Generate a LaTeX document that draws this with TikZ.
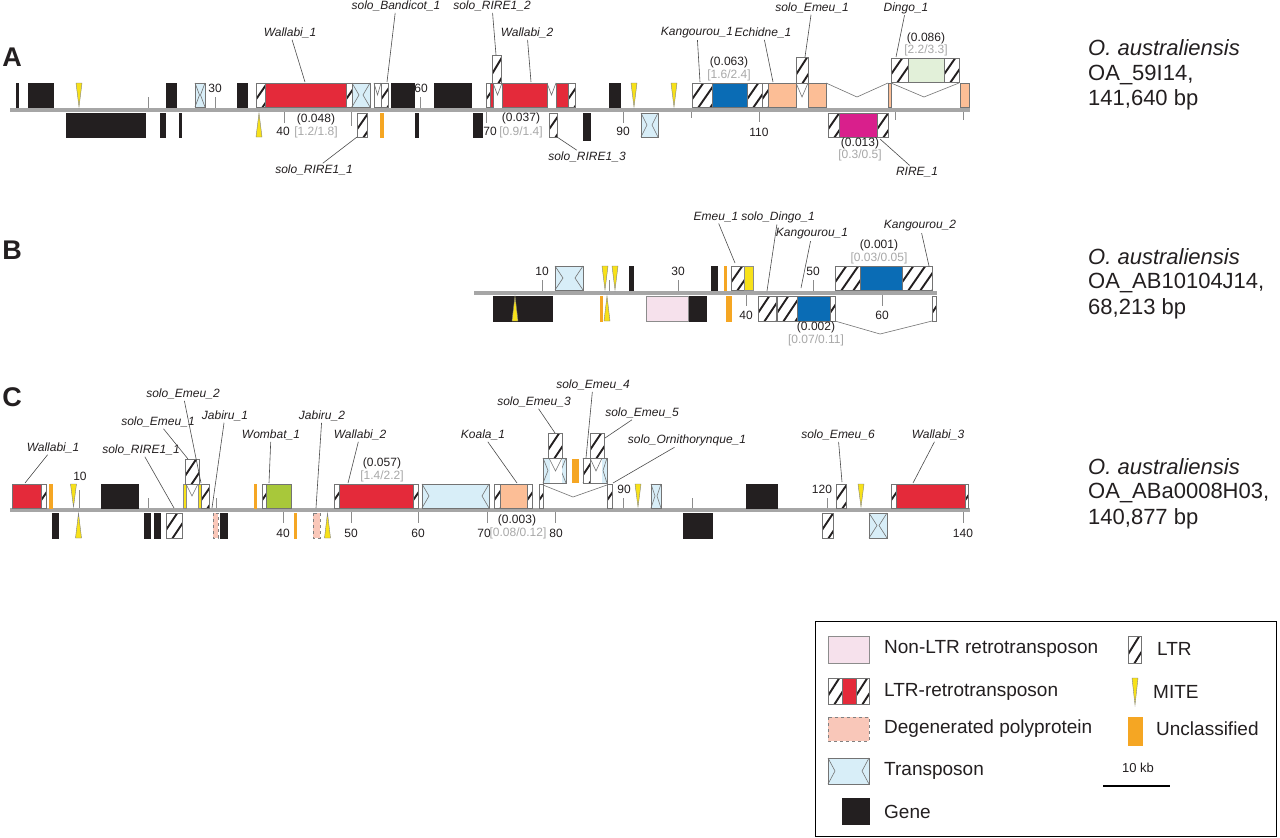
\documentclass[tikz,border=0pt]{standalone}
\usepackage{fontspec}
\setmainfont{Liberation Sans}
\definecolor{geneblk}{HTML}{231F20}
\definecolor{rtred}{HTML}{E42A3A}
\definecolor{rtblue}{HTML}{0A6CB5}
\definecolor{salm}{HTML}{FCBE96}
\definecolor{ltgreen}{HTML}{E2F0D9}
\definecolor{wgreen}{HTML}{A8C83A}
\definecolor{magent}{HTML}{D91F8C}
\definecolor{nonltr}{HTML}{F6E1EC}
\definecolor{degen}{HTML}{F9C7B9}
\definecolor{tpblue}{HTML}{D8EEF8}
\definecolor{miteyel}{HTML}{F7E11A}
\definecolor{unorg}{HTML}{F5A623}
\definecolor{bbgray}{HTML}{A6A6A6}
\definecolor{numgray}{HTML}{A8A8A8}
\definecolor{txt}{HTML}{231F20}
\tikzset{
  outl/.style={draw=black!55, line width=0.6pt},
  hatch/.style={draw=geneblk, line width=1.9pt},
  gene/.style={fill=geneblk, draw=geneblk, line width=0.4pt},
  rt/.style={fill=rtred, draw=black!55, line width=0.6pt},
  bl/.style={fill=rtblue, draw=black!55, line width=0.6pt},
  sal/.style={fill=salm, draw=black!55, line width=0.6pt},
  lg/.style={fill=ltgreen, draw=black!55, line width=0.6pt},
  wg/.style={fill=wgreen, draw=black!55, line width=0.6pt},
  mg/.style={fill=magent, draw=black!55, line width=0.6pt},
  nl/.style={fill=nonltr, draw=black!45, line width=0.6pt},
  dg/.style={fill=degen, draw=black!50, dashed, line width=0.6pt},
  yb/.style={fill=miteyel, draw=black!45, line width=0.5pt},
  org/.style={fill=unorg, draw=unorg, line width=0.3pt},
  wht/.style={fill=white, draw=black!55, line width=0.6pt},
  tpst/.style={fill=tpblue, draw=black!55, line width=0.6pt},
  mite/.style={fill=miteyel, draw=black!50, line width=0.4pt},
  tks/.style={draw=black!45, line width=0.8pt},
  vln/.style={draw=black!55, line width=0.6pt},
  bb/.style={draw=bbgray, line width=4.5pt},
  lab/.style={font=\fontsize{12}{14}\selectfont\itshape, text=txt, inner sep=1.5pt},
  num/.style={font=\fontsize{12}{14}\selectfont, text=txt, inner sep=0.5pt},
  gnum/.style={font=\fontsize{12}{14}\selectfont, text=numgray, inner sep=0.5pt},
  lead/.style={draw=black!70, line width=0.6pt},
  panel/.style={font=\fontsize{27}{30}\selectfont\bfseries, text=txt},
  spec/.style={font=\fontsize{22}{26}\selectfont, text=txt, anchor=west, inner sep=0pt},
  legt/.style={font=\fontsize{19}{22}\selectfont, text=txt, anchor=west, inner sep=0pt},
}
\newcommand{\ltrb}[4]{%
  \fill[white] (#1,#2) rectangle (#3,#4);
  \begin{scope}
    \clip (#1,#2) rectangle (#3,#4);
    \foreach \k in {0,...,6} {\draw[hatch] ({#1-18+\k*12},{#4+1}) -- ++(18,{#2-#4-2});}
  \end{scope}
  \draw[outl] (#1,#2) rectangle (#3,#4);
}
\newcommand{\tpn}[5]{%
  \draw[tpst] (#1,#2) rectangle (#3,#4);
  \draw[outl] (#1,#2) -- ({#1+#5},{(#2+#4)/2}) -- (#1,#4);
  \draw[outl] (#3,#2) -- ({#3-#5},{(#2+#4)/2}) -- (#3,#4);
}
\newcommand{\bx}[5]{\draw[#1] (#2,#3) rectangle (#4,#5);}
\newcommand{\mited}[3]{\draw[mite] ({#1-3},#2) -- ({#1+3},#2) -- (#1,#3) -- cycle;}
\newcommand{\miteu}[3]{\draw[mite] ({#1-3},#3) -- ({#1+3},#3) -- (#1,#2) -- cycle;}
\newcommand{\tk}[3]{\draw[tks] (#1,#2) -- (#1,#3);}
\newcommand{\vmk}[5]{\draw[vln] (#1,#2) -- (#3,#4) -- (#5,#2);}
\begin{document}
\begin{tikzpicture}[x=1pt,y=-1pt]
\useasboundingbox (0,0) rectangle (1280,838);
\fill[white] (0,0) rectangle (1280,838);

% ================= PANEL A =================
\node[panel] (pA) at (12,57) {A};
\draw[bb] (10,110) -- (970,110);
% top
\bx{gene}{16.5}{83}{18.5}{107}
\bx{gene}{28}{83}{53}{107}
\mited{79}{83}{107}
\tk{148}{97}{108}
\bx{gene}{166}{83}{176}{107}
\tpn{195}{83}{205}{107}{4.5}
\tk{215}{97}{108}
\node[num] (a30) at (215,88) {30};
\bx{gene}{237}{83}{247}{107}
\ltrb{256}{83}{265}{107}
\bx{rt}{265}{83}{346}{107}
\ltrb{346}{83}{352}{107}
\tpn{352}{83}{370}{107}{7}
\bx{wht}{374}{83}{381}{107}
\vmk{374}{83}{377.5}{95}{381}
\ltrb{381}{83}{388}{107}
\bx{gene}{391}{83}{414}{107}
\tk{420}{97}{108}
\node[num] (a60) at (421,88) {60};
\bx{gene}{434}{83}{471}{107}
\ltrb{486}{83}{490}{107}
\bx{rt}{490}{83}{493}{107}
\vmk{493}{83}{497.5}{95}{502}
\ltrb{492}{55}{501}{83}
\bx{rt}{502}{83}{547}{107}
\vmk{547}{83}{551.5}{95}{556}
\bx{rt}{556}{83}{568}{107}
\ltrb{568}{83}{575}{107}
\bx{gene}{609}{83}{620}{107}
\mited{634}{83}{107}
\mited{674}{83}{107}
\ltrb{692}{83}{712}{107}
\bx{bl}{712}{83}{747}{107}
\ltrb{747}{83}{762}{107}
\ltrb{762}{83}{768}{107}
\bx{sal}{768}{83}{796}{107}
\vmk{796}{83}{802}{97}{808}
\ltrb{796}{57}{808}{83}
\bx{sal}{808}{83}{826}{107}
\vmk{826}{83}{857}{97}{888}
\bx{sal}{888}{83}{891}{107}
\vmk{891}{83}{924}{97}{959}
\ltrb{891}{58}{908}{82}
\bx{lg}{908}{58}{944}{82}
\ltrb{944}{58}{959}{82}
\bx{sal}{960}{83}{969}{107}
\node[num] (a63) at (729,62) {(0.063)};
\node[gnum] (a63b) at (729,75) {[1.6/2.4]};
\node[num] (a86) at (926,38) {(0.086)};
\node[gnum] (a86b) at (926,50) {[2.2/3.3]};
% bottom
\bx{gene}{66}{113}{145}{137}
\bx{gene}{160}{113}{165}{137}
\bx{gene}{179}{113}{181}{137}
\miteu{259}{113}{137}
\tk{284}{112}{123}
\node[num] (a40) at (283,131) {40};
\node[num] (a48) at (316,119) {(0.048)};
\node[gnum] (a48b) at (316,132) {[1.2/1.8]};
\tk{351}{112}{126}
\ltrb{357}{113}{367}{137}
\bx{org}{380}{113}{383}{137}
\bx{gene}{415.5}{113}{418}{137}
\bx{gene}{473}{113}{482}{137}
\tk{486}{112}{123}
\node[num] (a70) at (490,131) {70};
\node[num] (a37) at (521,118) {(0.037)};
\node[gnum] (a37b) at (521,132) {[0.9/1.4]};
\ltrb{549}{113}{557}{137}
\bx{gene}{583}{113}{590}{140}
\tk{623}{112}{123}
\node[num] (a90) at (623,131) {90};
\tpn{641}{113}{658}{137}{6}
\tk{691}{112}{118}
\tk{759}{112}{122}
\node[num] (a110) at (759,132) {110};
\ltrb{828}{113}{839}{137}
\bx{mg}{839}{113}{877}{137}
\ltrb{877}{113}{888}{137}
\node[num] (a13) at (860,143) {(0.013)};
\node[gnum] (a13b) at (860,155) {[0.3/0.5]};
\tk{895}{112}{120}
\tk{963}{112}{120}
% labels A
\node[lab] (lAw1) at (290,33) {Wallabi\_1};
\coordinate (cAw1) at (305,82);
\draw[lead] (lAw1) -- (cAw1);
\node[lab] (lAsb) at (396,6) {solo\_Bandicot\_1};
\coordinate (cAsb) at (387,82);
\draw[lead] (lAsb) -- (cAsb);
\node[lab] (lAsr2) at (492,6) {solo\_RIRE1\_2};
\coordinate (cAsr2) at (496,55);
\draw[lead] (lAsr2) -- (cAsr2);
\node[lab] (lAw2) at (527,33) {Wallabi\_2};
\coordinate (cAw2) at (531,82);
\draw[lead] (lAw2) -- (cAw2);
\node[lab] (lAk1) at (697,33) {Kangourou\_1};
\coordinate (cAk1) at (700,82);
\draw[lead] (lAk1) -- (cAk1);
\node[lab] (lAe1) at (763,33) {Echidne\_1};
\coordinate (cAe1) at (773,82);
\draw[lead] (lAe1) -- (cAe1);
\node[lab] (lAse1) at (812,8) {solo\_Emeu\_1};
\coordinate (cAse1) at (805,57);
\draw[lead] (lAse1) -- (cAse1);
\node[lab] (lAd1) at (906,8) {Dingo\_1};
\coordinate (cAd1) at (896,57);
\draw[lead] (lAd1) -- (cAd1);
\node[lab] (lAsr1) at (314,170) {solo\_RIRE1\_1};
\coordinate (cAsr1) at (357,137);
\draw[lead] (lAsr1) -- (cAsr1);
\node[lab] (lAsr3) at (587,157) {solo\_RIRE1\_3};
\coordinate (cAsr3) at (557,137);
\draw[lead] (lAsr3) -- (cAsr3);
\node[lab] (lAr1) at (917,172) {RIRE\_1};
\coordinate (cAr1) at (880,139);
\draw[lead] (lAr1) -- (cAr1);
% species A
\node[spec] (sA1) at (1088,48) {\itshape O. australiensis};
\node[spec] (sA2) at (1088,75) {OA\_59I14,};
\node[spec] (sA3) at (1088,100) {141,640 bp};

% ================= PANEL B =================
\node[panel] (pB) at (12,250) {B};
\draw[bb] (474,293) -- (937,293);
% top
\tk{542}{280}{291}
\node[num] (b10) at (542,271) {10};
\tpn{555}{266}{583}{290}{8}
\tk{609}{280}{291}
\mited{605}{266}{290}
\mited{615}{266}{290}
\bx{gene}{629}{266}{633}{290}
\tk{678}{280}{291}
\node[num] (b30) at (678,271) {30};
\bx{gene}{711}{266}{717}{290}
\bx{org}{724}{266}{726}{290}
\ltrb{731}{266}{744}{290}
\bx{yb}{744}{266}{753}{290}
\tk{813}{280}{291}
\node[num] (b50) at (813,271) {50};
\ltrb{835}{266}{860}{290}
\bx{bl}{860}{266}{902}{290}
\ltrb{902}{266}{932}{290}
\node[num] (b01) at (879,245) {(0.001)};
\node[gnum] (b01b) at (879,258) {[0.03/0.05]};
% bottom
\bx{gene}{493}{296}{552}{321}
\miteu{515}{296}{321}
\bx{org}{600}{296}{602}{321}
\miteu{607}{296}{321}
\bx{nl}{646}{296}{688}{321}
\bx{gene}{689}{296}{706}{321}
\bx{org}{726}{296}{731}{321}
\tk{746}{295}{306}
\node[num] (b40) at (746,315) {40};
\ltrb{758}{296}{776}{321}
\ltrb{777}{296}{797}{321}
\bx{bl}{797}{296}{830}{321}
\ltrb{830}{296}{835}{321}
\vmk{835}{321}{880}{334}{932}
\ltrb{932}{296}{936}{321}
\tk{882}{295}{306}
\node[num] (b60) at (882,315) {60};
\node[num] (b02) at (816,327) {(0.002)};
\node[gnum] (b02b) at (816,340) {[0.07/0.11]};
% labels B
\node[lab] (lBe1) at (716,217) {Emeu\_1};
\coordinate (cBe1) at (735,263);
\draw[lead] (lBe1) -- (cBe1);
\node[lab] (lBsd) at (778,217) {solo\_Dingo\_1};
\coordinate (cBsd) at (767,291);
\draw[lead] (lBsd) -- (cBsd);
\node[lab] (lBk1) at (812,234) {Kangourou\_1};
\coordinate (cBk1) at (801,288);
\draw[lead] (lBk1) -- (cBk1);
\node[lab] (lBk2) at (920,226) {Kangourou\_2};
\coordinate (cBk2) at (929,266);
\draw[lead] (lBk2) -- (cBk2);
% species B
\node[spec] (sB1) at (1088,257) {\itshape O. australiensis};
\node[spec] (sB2) at (1088,283) {OA\_AB10104J14,};
\node[spec] (sB3) at (1088,309) {68,213 bp};

% ================= PANEL C =================
\node[panel] (pC) at (12,397) {C};
\draw[bb] (10,510) -- (970,510);
% top
\bx{rt}{12}{484}{41}{508}
\ltrb{41}{484}{46}{508}
\bx{org}{49}{484}{52}{508}
\mited{73.5}{484}{507}
\tk{79}{490}{508}
\node[num] (c10) at (80,476) {10};
\bx{gene}{101}{484}{138}{508}
\tk{148}{498}{508}
\bx{yb}{183}{484}{186}{508}
\vmk{186}{484}{192}{496}{198}
\bx{yb}{198}{484}{201}{508}
\ltrb{201}{484}{209}{508}
\ltrb{185}{459}{199}{484}
\tk{216}{498}{508}
\bx{org}{254}{484}{256}{508}
\ltrb{262}{484}{266}{508}
\bx{wg}{266}{484}{291}{508}
\ltrb{334}{484}{339}{508}
\bx{rt}{339}{484}{413}{508}
\ltrb{413}{484}{418}{508}
\node[num] (c57) at (382,463) {(0.057)};
\node[gnum] (c57b) at (382,476) {[1.4/2.2]};
\tpn{422}{484}{489}{508}{7}
\ltrb{494}{484}{500}{508}
\bx{sal}{500}{484}{527}{508}
\ltrb{527}{484}{532}{508}
\ltrb{539}{484}{543}{508}
\vmk{543}{485}{573}{497}{607}
\ltrb{607}{484}{612}{508}
% upper tier
\tpn{543}{458}{566}{483}{5}
\fill[white] (549.5,458.5) rectangle (561.5,482.5);
\vmk{549}{458}{555.5}{471}{562}
\ltrb{548}{433}{562}{458}
\bx{org}{572}{459}{578}{482}
\tpn{583}{458}{607}{483}{4}
\ltrb{583}{458}{590}{483}
\fill[white] (590.5,458.5) rectangle (601.5,482.5);
\vmk{590}{458}{596}{471}{602}
\ltrb{590}{433}{604}{458}
\tk{623}{498}{508}
\node[num] (c90) at (624,489) {90};
\mited{638}{484}{507}
\tpn{651}{484}{661}{508}{4}
\tk{692}{498}{508}
\bx{gene}{746}{484}{777}{508}
\tk{827}{498}{508}
\node[num] (c120) at (822,489) {120};
\ltrb{836}{484}{846}{508}
\mited{861}{484}{507}
\ltrb{891}{484}{896}{508}
\bx{rt}{896}{484}{965}{508}
\ltrb{965}{484}{968}{508}
% bottom
\bx{gene}{52}{513}{58}{538}
\miteu{78.5}{513}{538}
\bx{gene}{144}{513}{150}{538}
\bx{gene}{154}{513}{160}{538}
\ltrb{166}{513}{182}{538}
\bx{dg}{213}{513}{218}{538}
\bx{gene}{220}{513}{227}{538}
\tk{283}{512}{523}
\node[num] (c40) at (283,533) {40};
\bx{org}{294}{513}{296}{538}
\bx{dg}{313}{513}{320}{538}
\miteu{327.5}{513}{538}
\tk{351}{512}{523}
\node[num] (c50) at (351,533) {50};
\tk{418}{512}{523}
\node[num] (c60) at (418,533) {60};
\tk{487}{512}{523}
\node[num] (c70) at (484,533) {70};
\node[num] (c03) at (517,520) {(0.003)};
\node[gnum] (c03b) at (518,533) {[0.08/0.12]};
\tk{555}{512}{523}
\node[num] (c80) at (556,533) {80};
\bx{gene}{683}{513}{712}{538}
\ltrb{822}{513}{833}{538}
\tpn{869}{513}{887}{538}{8}
\tk{963}{512}{523}
\node[num] (c140) at (963,533) {140};
% labels C
\node[lab] (lCw1) at (53,448) {Wallabi\_1};
\coordinate (cCw1) at (25,483);
\draw[lead] (lCw1) -- (cCw1);
\node[lab] (lCsr1) at (141,450) {solo\_RIRE1\_1};
\coordinate (cCsr1) at (174,508);
\draw[lead] (lCsr1) -- (cCsr1);
\node[lab] (lCse1) at (158,422) {solo\_Emeu\_1};
\coordinate (cCse1) at (188,459);
\draw[lead] (lCse1) -- (cCse1);
\node[lab] (lCse2) at (183,394) {solo\_Emeu\_2};
\coordinate (cCse2) at (201,483);
\draw[lead] (lCse2) -- (cCse2);
\node[lab] (lCj1) at (225,416) {Jabiru\_1};
\coordinate (cCj1) at (212,508);
\draw[lead] (lCj1) -- (cCj1);
\node[lab] (lCwo) at (271,435) {Wombat\_1};
\coordinate (cCwo) at (269,483);
\draw[lead] (lCwo) -- (cCwo);
\node[lab] (lCj2) at (322,416) {Jabiru\_2};
\coordinate (cCj2) at (316,508);
\draw[lead] (lCj2) -- (cCj2);
\node[lab] (lCw2) at (360,435) {Wallabi\_2};
\coordinate (cCw2) at (348,483);
\draw[lead] (lCw2) -- (cCw2);
\node[lab] (lCk1) at (483,435) {Koala\_1};
\coordinate (cCk1) at (517,483);
\draw[lead] (lCk1) -- (cCk1);
\node[lab] (lCse3) at (534,402) {solo\_Emeu\_3};
\coordinate (cCse3) at (555,433);
\draw[lead] (lCse3) -- (cCse3);
\node[lab] (lCse4) at (593,385) {solo\_Emeu\_4};
\coordinate (cCse4) at (586,458);
\draw[lead] (lCse4) -- (cCse4);
\node[lab] (lCse5) at (642,413) {solo\_Emeu\_5};
\coordinate (cCse5) at (605,438);
\draw[lead] (lCse5) -- (cCse5);
\node[lab] (lCso) at (687,440) {solo\_Ornithorynque\_1};
\coordinate (cCso) at (613,483);
\draw[lead] (lCso) -- (cCso);
\node[lab] (lCse6) at (838,435) {solo\_Emeu\_6};
\coordinate (cCse6) at (842,482);
\draw[lead] (lCse6) -- (cCse6);
\node[lab] (lCw3) at (938,435) {Wallabi\_3};
\coordinate (cCw3) at (913,483);
\draw[lead] (lCw3) -- (cCw3);
% species C
\node[spec] (sC1) at (1088,467) {\itshape O. australiensis};
\node[spec] (sC2) at (1088,493) {OA\_ABa0008H03,};
\node[spec] (sC3) at (1088,519) {140,877 bp};

% ================= LEGEND =================
\draw[black, line width=1pt] (815,621) rectangle (1276,836);
\bx{nl}{828}{636}{869}{663}
\node[legt] (g1) at (884,649) {Non-LTR retrotransposon};
\ltrb{828}{678}{842}{704}
\bx{rt}{842}{678}{856}{704}
\ltrb{856}{678}{869}{704}
\node[legt] (g2) at (884,692) {LTR-retrotransposon};
\bx{dg}{828}{717}{869}{741}
\node[legt] (g3) at (884,729) {Degenerated polyprotein};
\tpn{828}{758}{869}{784}{7}
\node[legt] (g4) at (884,771) {Transposon};
\bx{gene}{842}{798}{869}{824}
\node[legt] (g5) at (884,812) {Gene};
\ltrb{1128}{636}{1141}{663}
\node[legt] (g6) at (1157,649) {LTR};
\mited{1135}{678}{705}
\node[legt] (g7) at (1153,692) {MITE};
\bx{org}{1128}{717}{1142}{745}
\node[legt] (g8) at (1156,729) {Unclassified};
\node[num, font=\fontsize{13}{15}\selectfont] (g9) at (1138,768) {10 kb};
\coordinate (sb1) at (1103,786);
\coordinate (sb2) at (1170,786);
\draw[black, line width=1.6pt] (sb1) -- (sb2);
\end{tikzpicture}
\end{document}
